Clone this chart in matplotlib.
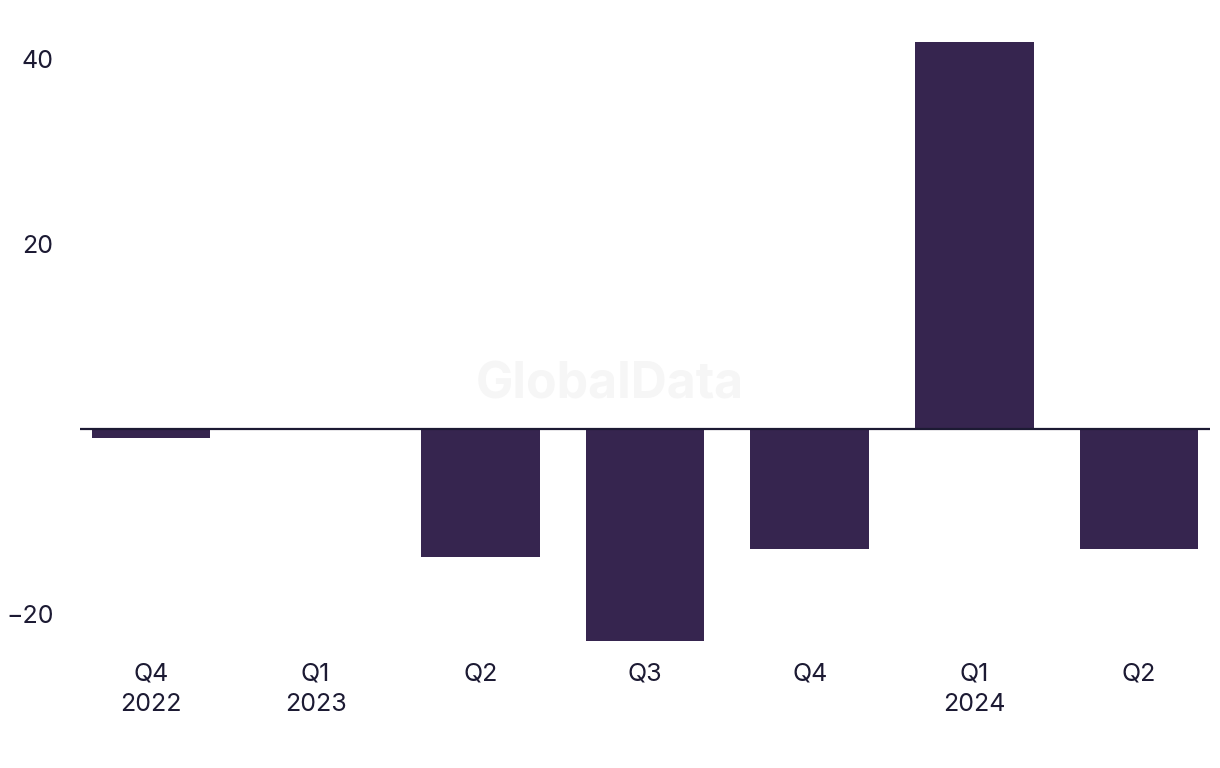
import matplotlib
matplotlib.use("Agg")
import matplotlib.pyplot as plt

categories = ["Q4\n2022", "Q1\n2023", "Q2", "Q3", "Q4", "Q1\n2024", "Q2"]
values = [-1.0, 0.0, -13.9, -22.9, -13.0, 41.8, -13.0]
yticks = [-20, 20, 40]

bar_color = "#36254f"
text_color = "#1c1a33"

plt.rcParams['font.family'] = ['Inter', 'DejaVu Sans']

fig = plt.figure(figsize=(12.2, 7.68), dpi=100)
ax = fig.add_axes([80/1220, 1 - 650/768, 1130/1220, 620/768])

x = list(range(len(categories)))
ax.bar(x, values, width=0.72, color=bar_color, zorder=2)
ax.axhline(0, color=text_color, linewidth=1.6, zorder=3)

ax.set_xlim(-0.43, 6.43)
ax.set_ylim(-23.9, 43.1)
ax.set_yticks(yticks)
ax.set_yticklabels([str(v).replace("-", "\u2212") for v in yticks])
ax.set_xticks(x)
ax.set_xticklabels(categories, linespacing=1.4)

ax.tick_params(axis='y', length=0, pad=19, labelsize=18, labelcolor=text_color)
ax.tick_params(axis='x', length=0, pad=9, labelsize=18, labelcolor=text_color)
for s in ax.spines.values():
    s.set_visible(False)

fig.text(610/1220, 1 - 385/768, "GlobalData", fontsize=36, fontweight='bold',
         color="#f6f6f6", ha='center', va='center', zorder=0)

fig.savefig("out.png", dpi=100, facecolor="white")
